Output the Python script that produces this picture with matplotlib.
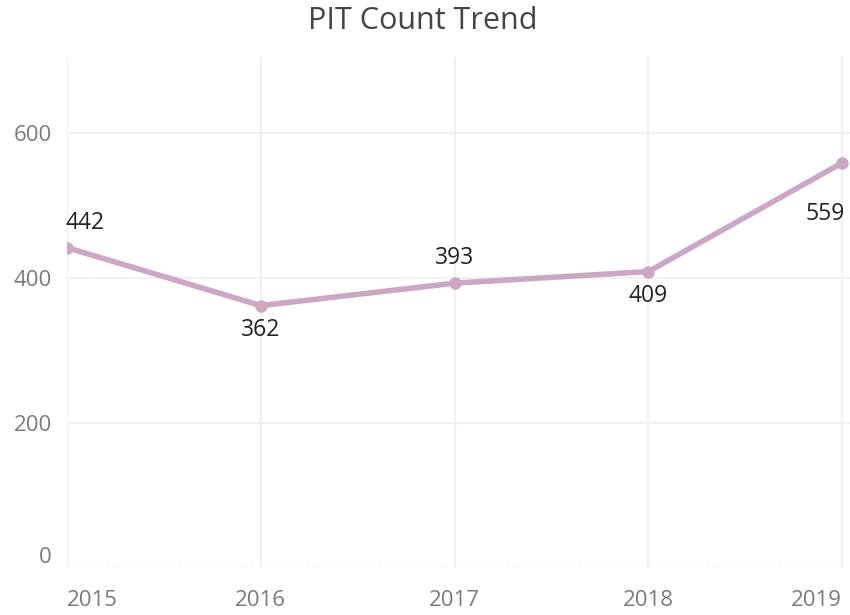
import matplotlib
matplotlib.use("Agg")
import matplotlib.pyplot as plt

# PIT count by year
years = [2015, 2016, 2017, 2018, 2019]
counts = [442, 362, 393, 409, 559]
label_pos = ["above", "below", "above", "below", "below"]
y_ticks = [0, 200, 400, 600]

plt.rcParams['font.family'] = ['Open Sans', 'DejaVu Sans']

fig = plt.figure(figsize=(8.5, 6.15), dpi=100)
ax = fig.add_axes([67 / 850, 47 / 615, 783 / 850, 511 / 615])

line_color = '#cca7c3'
ax.plot(years, counts, color=line_color, linewidth=4, marker='o',
        markersize=8, solid_capstyle='round', zorder=3, clip_on=True)

# value labels, offsets in pixels like the tableau layout
for x, y, pos in zip(years, counts, label_pos):
    dy = 25 if pos == "above" else -24
    ha, dx = 'center', 0
    if x == years[0]:
        ha, dx = 'left', -1
    if x == years[-1]:
        dx, dy = -17, -51
    ax.annotate(str(y), (x, y), xytext=(dx, dy), textcoords='offset pixels',
                ha=ha, va='center', fontsize=16.5, color='#222222')

ax.set_xlim(2015, 2019.04)
ax.set_ylim(0, 705)
ax.set_xticks(years)
ax.set_yticks(y_ticks)
ax.tick_params(axis='both', length=0, labelsize=16, labelcolor='#7a7a7a')
ax.tick_params(axis='x', pad=16)
ax.tick_params(axis='y', pad=11)

xlabels = ax.get_xticklabels()
xlabels[0].set_horizontalalignment('left')
xlabels[-1].set_horizontalalignment('right')
ylabels = ax.get_yticklabels()
ylabels[0].set_verticalalignment('bottom')

ax.grid(True, axis='x', color='#f0f0f0', linewidth=1.5)
for t in y_ticks[1:]:
    ax.axhline(t, color='#f0f0f0', linewidth=1.5, zorder=0)
ax.set_axisbelow(True)
for s in ax.spines.values():
    s.set_visible(False)
ax.axhline(0, color='#d8d8d8', linewidth=1, linestyle=(0, (2, 2)), zorder=1)

fig.suptitle('PIT Count Trend', fontsize=22, color='#444444', y=0.99, va='top',
             x=0.497)

fig.savefig('out.png', dpi=100)
